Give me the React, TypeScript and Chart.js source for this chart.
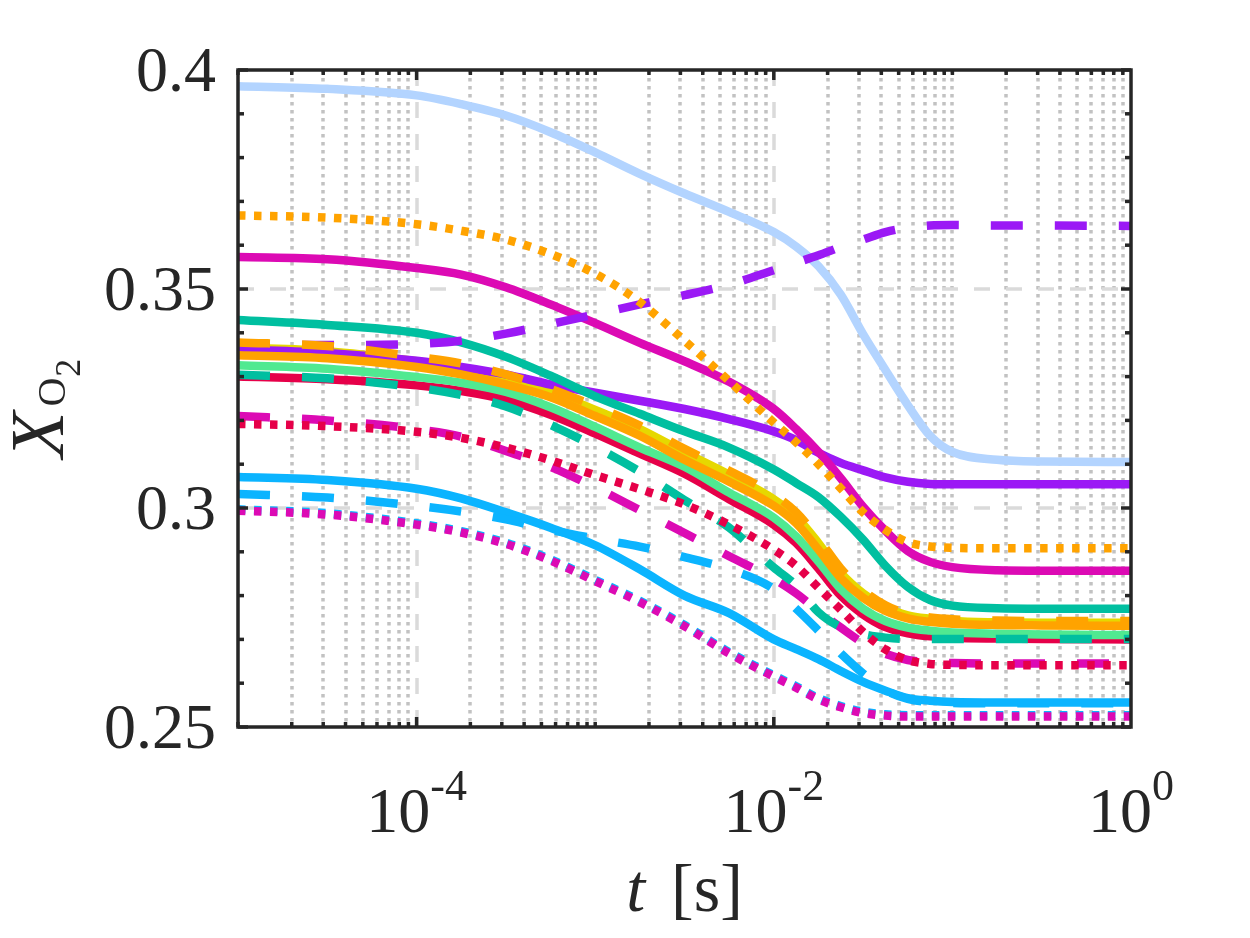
import React, { useEffect, useRef } from 'react';
import { Chart, registerables } from 'chart.js';

Chart.register(...registerables);

// time grid [s]
const T = [1e-5, 3.162e-5, 1e-4, 1.778e-4, 3.162e-4, 5.623e-4, 1e-3, 1.778e-3, 3.162e-3, 5.623e-3, 1e-2, 1.334e-2, 1.778e-2, 2.371e-2, 3.162e-2, 4.217e-2, 5.623e-2, 7.499e-2, 0.1, 0.1778, 0.3162, 1];

// series values (X_O2)
const LB_SOLID = [0.3963, 0.3957, 0.3942, 0.3922, 0.3896, 0.3858, 0.3812, 0.3763, 0.3718, 0.3676, 0.3630, 0.3597, 0.3552, 0.3487, 0.3397, 0.3315, 0.3235, 0.3165, 0.3128, 0.3110, 0.3106, 0.3105];
const OR_DOT = [0.3668, 0.3663, 0.3648, 0.3633, 0.3613, 0.3580, 0.3535, 0.3470, 0.3382, 0.3290, 0.3195, 0.3150, 0.3100, 0.3045, 0.2990, 0.2950, 0.2922, 0.2912, 0.2909, 0.2908, 0.2908, 0.2908];
const MG_SOLID = [0.3573, 0.3568, 0.3548, 0.3533, 0.3504, 0.3465, 0.3422, 0.3377, 0.3335, 0.3288, 0.3226, 0.3180, 0.3128, 0.3068, 0.3003, 0.2948, 0.2902, 0.2877, 0.2865, 0.2858, 0.2857, 0.2857];
const TL_SOLID = [0.3429, 0.3418, 0.3400, 0.3378, 0.3345, 0.3302, 0.3255, 0.3215, 0.3175, 0.3138, 0.3088, 0.3057, 0.3025, 0.2980, 0.2928, 0.2868, 0.2820, 0.2790, 0.2777, 0.2771, 0.2770, 0.2770];
const PU_SOLID = [0.3362, 0.3354, 0.3336, 0.3322, 0.3305, 0.3282, 0.3263, 0.3245, 0.3226, 0.3203, 0.3175, 0.3155, 0.3126, 0.3103, 0.3086, 0.3070, 0.3060, 0.3055, 0.3054, 0.3054, 0.3054, 0.3054];
const PU_DASH = [0.3372, 0.3372, 0.3375, 0.3382, 0.3398, 0.3420, 0.3442, 0.3465, 0.3486, 0.3510, 0.3543, 0.3560, 0.3577, 0.3596, 0.3613, 0.3630, 0.3640, 0.3645, 0.3646, 0.3645, 0.3645, 0.3644];
const OR_SOLID = [0.3349, 0.3342, 0.3322, 0.3305, 0.3282, 0.3253, 0.3210, 0.3165, 0.3110, 0.3060, 0.3005, 0.2965, 0.2905, 0.2840, 0.2795, 0.2765, 0.2748, 0.2740, 0.2736, 0.2733, 0.2732, 0.2731];
const YE_SOLID = [0.3366, 0.3358, 0.3335, 0.3320, 0.3296, 0.3265, 0.3224, 0.3180, 0.3127, 0.3076, 0.3020, 0.2980, 0.2920, 0.2852, 0.2805, 0.2773, 0.2755, 0.2747, 0.2742, 0.2739, 0.2738, 0.2738];
const OR_DASH = [0.3378, 0.3370, 0.3345, 0.3330, 0.3305, 0.3272, 0.3232, 0.3188, 0.3135, 0.3085, 0.3030, 0.2990, 0.2930, 0.2862, 0.2812, 0.2778, 0.2758, 0.2750, 0.2746, 0.2743, 0.2742, 0.2742];
const GR_SOLID = [0.3326, 0.3318, 0.3299, 0.3286, 0.3265, 0.3230, 0.3185, 0.3138, 0.3094, 0.3035, 0.2978, 0.2935, 0.2878, 0.2815, 0.2770, 0.2742, 0.2727, 0.2720, 0.2716, 0.2713, 0.2711, 0.2710];
const RD_SOLID = [0.3300, 0.3294, 0.3280, 0.3267, 0.3247, 0.3213, 0.3170, 0.3124, 0.3078, 0.3020, 0.2962, 0.2920, 0.2862, 0.2800, 0.2757, 0.2728, 0.2714, 0.2707, 0.2704, 0.2702, 0.2701, 0.2700];
const TL_DASH = [0.3304, 0.3296, 0.3275, 0.3258, 0.3232, 0.3190, 0.3140, 0.3083, 0.3018, 0.2955, 0.2864, 0.2823, 0.2762, 0.2728, 0.2712, 0.2704, 0.2701, 0.2701, 0.2701, 0.2701, 0.2701, 0.2701];
const MG_DASH = [0.3210, 0.3200, 0.3180, 0.3163, 0.3130, 0.3094, 0.3047, 0.2995, 0.2943, 0.2890, 0.2838, 0.2805, 0.2765, 0.2727, 0.2692, 0.2667, 0.2653, 0.2648, 0.2646, 0.2645, 0.2645, 0.2645];
const RD_DOT = [0.3192, 0.3187, 0.3174, 0.3160, 0.3138, 0.3109, 0.3075, 0.3043, 0.3008, 0.2962, 0.2905, 0.2868, 0.2818, 0.2768, 0.2717, 0.2677, 0.2653, 0.2644, 0.2642, 0.2641, 0.2641, 0.2641];
const BL_SOLID = [0.3071, 0.3064, 0.3044, 0.3022, 0.2990, 0.2955, 0.2915, 0.2860, 0.2800, 0.2760, 0.2700, 0.2678, 0.2655, 0.2628, 0.2603, 0.2583, 0.2566, 0.2560, 0.2557, 0.2556, 0.2556, 0.2556];
const BL_DASH = [0.3032, 0.3024, 0.3005, 0.2992, 0.2974, 0.2950, 0.2930, 0.2912, 0.2888, 0.2860, 0.2815, 0.2770, 0.2720, 0.2668, 0.2622, 0.2584, 0.2564, 0.2557, 0.2555, 0.2554, 0.2554, 0.2554];
const MG_DOT = [0.2994, 0.2985, 0.2962, 0.2944, 0.2918, 0.2880, 0.2833, 0.2785, 0.2730, 0.2668, 0.2615, 0.2590, 0.2563, 0.2545, 0.2532, 0.2526, 0.2524, 0.2524, 0.2524, 0.2524, 0.2524, 0.2524];
const BL_DOT = [0.2997, 0.2988, 0.2965, 0.2947, 0.2921, 0.2883, 0.2836, 0.2788, 0.2733, 0.2671, 0.2618, 0.2593, 0.2566, 0.2548, 0.2535, 0.2529, 0.2527, 0.2527, 0.2527, 0.2527, 0.2527, 0.2527];

// colours
const RED = '#e60049';
const BLUE = '#0bb4ff';
const GREEN = '#50e991';
const YELLOW = '#e6d800';
const PURPLE = '#9b19f5';
const ORANGE = '#ffa300';
const MAGENTA = '#dc0ab4';
const LIGHTBLUE = '#b3d4ff';
const TEAL = '#00bfa0';

// drawing order: bottom first
const SERIES: { data: number[]; color: string; style: 'solid' | 'dash' | 'dot' }[] = [
  { data: RD_SOLID, color: RED, style: 'solid' },
  { data: BL_SOLID, color: BLUE, style: 'solid' },
  { data: GR_SOLID, color: GREEN, style: 'solid' },
  { data: YE_SOLID, color: YELLOW, style: 'solid' },
  { data: PU_SOLID, color: PURPLE, style: 'solid' },
  { data: OR_SOLID, color: ORANGE, style: 'solid' },
  { data: MG_SOLID, color: MAGENTA, style: 'solid' },
  { data: LB_SOLID, color: LIGHTBLUE, style: 'solid' },
  { data: TL_SOLID, color: TEAL, style: 'solid' },
  { data: BL_DASH, color: BLUE, style: 'dash' },
  { data: PU_DASH, color: PURPLE, style: 'dash' },
  { data: OR_DASH, color: ORANGE, style: 'dash' },
  { data: MG_DASH, color: MAGENTA, style: 'dash' },
  { data: TL_DASH, color: TEAL, style: 'dash' },
  { data: RD_DOT, color: RED, style: 'dot' },
  { data: BL_DOT, color: BLUE, style: 'dot' },
  { data: OR_DOT, color: ORANGE, style: 'dot' },
  { data: MG_DOT, color: MAGENTA, style: 'dot' },
];

// axes
const X_MIN = 1e-5;
const X_MAX = 1;
const Y_MIN = 0.25;
const Y_MAX = 0.4;
const X_MAJOR_TICKS = [1e-4, 1e-2, 1];
const X_MAJOR_EXP = ['-4', '-2', '0'];
const X_DECADES = [1e-5, 1e-4, 1e-3, 1e-2, 1e-1];
const X_MULT = [1, 2, 3, 4, 5, 6, 7, 8, 9];
const Y_MAJOR_TICKS = [0.25, 0.3, 0.35, 0.4];
const Y_TICK_LABELS = ['0.25', '0.3', '0.35', '0.4'];
const Y_MINOR_TICKS = [0.26, 0.27, 0.28, 0.29, 0.31, 0.32, 0.33, 0.34, 0.36, 0.37, 0.38, 0.39];

const AX = '#262626';
const SERIF = '"Liberation Serif", "Times New Roman", serif';

const isMajorX = (v: number) => X_MAJOR_TICKS.some((m) => Math.abs(Math.log10(v) - Math.log10(m)) < 1e-6);

const axesPlugin = {
  id: 'matlabAxes',
  beforeDatasetsDraw(chart: any) {
    const { ctx, chartArea: a, scales } = chart;
    const x = scales.x;
    const y = scales.y;
    ctx.save();
    const line = (x1: number, y1: number, x2: number, y2: number) => {
      ctx.beginPath();
      ctx.moveTo(x1, y1);
      ctx.lineTo(x2, y2);
      ctx.stroke();
    };
    // minor x grid (dotted)
    ctx.lineWidth = 3.5;
    ctx.lineCap = 'butt';
    ctx.strokeStyle = '#c2c2c2';
    ctx.setLineDash([3.5, 4.5]);
    X_DECADES.forEach((d) =>
      X_MULT.forEach((k) => {
        const v = d * k;
        if (isMajorX(v) || Math.abs(v - X_MIN) < 1e-12) return;
        const px = Math.round(x.getPixelForValue(v));
        line(px, a.top, px, a.bottom);
      })
    );
    // major grid (dashed)
    ctx.strokeStyle = '#dadada';
    ctx.lineWidth = 3.5;
    ctx.setLineDash([16, 16]);
    X_MAJOR_TICKS.forEach((v) => {
      if (v >= X_MAX) return;
      const px = Math.round(x.getPixelForValue(v));
      line(px, a.top, px, a.bottom);
    });
    Y_MAJOR_TICKS.forEach((v) => {
      if (v <= Y_MIN || v >= Y_MAX) return;
      const py = Math.round(y.getPixelForValue(v));
      line(a.left, py, a.right, py);
    });
    ctx.restore();
  },
  afterDatasetsDraw(chart: any) {
    const { ctx, chartArea: a, scales } = chart;
    const x = scales.x;
    const y = scales.y;
    ctx.save();
    const line = (x1: number, y1: number, x2: number, y2: number) => {
      ctx.beginPath();
      ctx.moveTo(x1, y1);
      ctx.lineTo(x2, y2);
      ctx.stroke();
    };
    ctx.strokeStyle = AX;
    ctx.lineWidth = 3.5;
    ctx.setLineDash([]);
    ctx.lineCap = 'butt';
    // x ticks
    X_DECADES.forEach((d) =>
      X_MULT.forEach((k) => {
        const v = d * k;
        const px = x.getPixelForValue(v);
        const len = isMajorX(v) ? 10 : 5;
        line(px, a.bottom, px, a.bottom - len);
        line(px, a.top, px, a.top + len);
      })
    );
    // y ticks
    Y_MAJOR_TICKS.forEach((v) => {
      const py = y.getPixelForValue(v);
      line(a.left, py, a.left + 10, py);
      line(a.right, py, a.right - 10, py);
    });
    Y_MINOR_TICKS.forEach((v) => {
      const py = y.getPixelForValue(v);
      line(a.left, py, a.left + 6, py);
      line(a.right, py, a.right - 6, py);
    });
    // box
    ctx.strokeRect(a.left, a.top, a.right - a.left, a.bottom - a.top);

    // y tick labels
    ctx.fillStyle = AX;
    ctx.font = `64px ${SERIF}`;
    ctx.textAlign = 'right';
    ctx.textBaseline = 'alphabetic';
    Y_MAJOR_TICKS.forEach((v, i) => {
      const py = y.getPixelForValue(v);
      ctx.fillText(Y_TICK_LABELS[i], a.left - 22, py + 21);
    });

    // x tick labels 10^n
    ctx.textAlign = 'left';
    X_MAJOR_TICKS.forEach((v, i) => {
      const px = x.getPixelForValue(v);
      ctx.font = `64px ${SERIF}`;
      const wBase = ctx.measureText('10').width;
      ctx.font = `44px ${SERIF}`;
      const wExp = ctx.measureText(X_MAJOR_EXP[i]).width;
      const start = px - (wBase + wExp) / 2;
      ctx.font = `64px ${SERIF}`;
      ctx.fillText('10', start, a.bottom + 105);
      ctx.font = `44px ${SERIF}`;
      ctx.fillText(X_MAJOR_EXP[i], start + wBase, a.bottom + 73);
    });

    // x title: t [s]
    ctx.font = `italic 68px ${SERIF}`;
    const wt = ctx.measureText('t').width;
    ctx.font = `68px ${SERIF}`;
    const ws = ctx.measureText('[s]').width;
    const gap = 26;
    const cx = (a.left + a.right) / 2;
    const tx0 = cx - (wt + gap + ws) / 2;
    ctx.font = `italic 68px ${SERIF}`;
    ctx.fillText('t', tx0, 911);
    ctx.font = `68px ${SERIF}`;
    ctx.fillText('[s]', tx0 + wt + gap, 911);

    // y title: X_{O_2}
    ctx.save();
    ctx.translate(63, 458);
    ctx.rotate(-Math.PI / 2);
    ctx.font = `italic 76px ${SERIF}`;
    const wX = ctx.measureText('X').width;
    ctx.fillText('X', 0, 0);
    ctx.font = `40px ${SERIF}`;
    const wO = ctx.measureText('O').width;
    ctx.fillText('O', wX + 5, 2);
    ctx.font = `36px ${SERIF}`;
    ctx.fillText('2', wX + 5 + wO + 1, 17);
    ctx.restore();

    ctx.restore();
  },
};

export default function App() {
  const canvasRef = useRef<HTMLCanvasElement | null>(null);

  useEffect(() => {
    const canvas = canvasRef.current;
    if (!canvas) return;
    const datasets = SERIES.map((s, i) => ({
      data: T.map((t, j) => ({ x: t, y: s.data[j] })),
      borderColor: s.color,
      backgroundColor: s.color,
      borderWidth: 8.5,
      borderDash: s.style === 'dash' ? [32, 32] : s.style === 'dot' ? [7.5, 8.5] : [],
      borderCapStyle: 'butt' as const,
      borderJoinStyle: 'round' as const,
      pointRadius: 0,
      pointHoverRadius: 0,
      fill: false,
      cubicInterpolationMode: 'monotone' as const,
      clip: 0,
      order: -i,
    }));
    const chart = new Chart(canvas, {
      type: 'line',
      data: { datasets },
      options: {
        animation: false,
        responsive: false,
        maintainAspectRatio: false,
        events: [],
        layout: { padding: { left: 238, right: 119, top: 70, bottom: 211 } },
        scales: {
          x: { type: 'logarithmic', min: X_MIN, max: X_MAX, display: false },
          y: { type: 'linear', min: Y_MIN, max: Y_MAX, display: false },
        },
        plugins: {
          legend: { display: false },
          tooltip: { enabled: false },
        },
      },
      plugins: [axesPlugin],
    } as any);
    return () => chart.destroy();
  }, []);

  return (
    <div style={{ position: 'fixed', left: 0, top: 0, width: 1250, height: 938, background: '#ffffff' }}>
      <canvas ref={canvasRef} width={1250} height={938} style={{ width: 1250, height: 938, display: 'block' }} />
    </div>
  );
}
